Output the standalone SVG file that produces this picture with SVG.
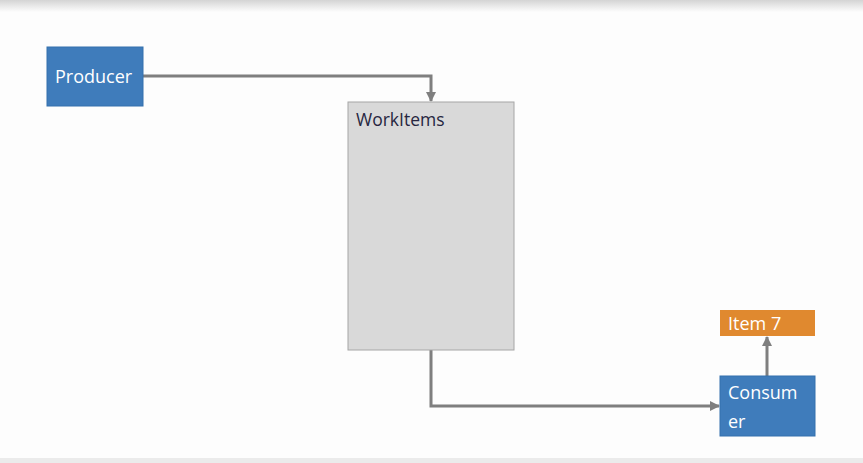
<svg xmlns="http://www.w3.org/2000/svg" width="863" height="463" viewBox="0 0 863 463">
<defs>
<linearGradient id="top" x1="0" y1="0" x2="0" y2="1">
<stop offset="0" stop-color="#d4d4d4"/>
<stop offset="1" stop-color="#fdfdfd"/>
</linearGradient>
<marker id="ah" viewBox="0 0 10 10" refX="9" refY="5" markerWidth="10" markerHeight="10" markerUnits="userSpaceOnUse" orient="auto">
<path d="M0,0 L10,5 L0,10 z" fill="#7f7f7f"/>
</marker>
<style>
.blue{fill:#3f7cbb;stroke:#3570ad;stroke-width:1}
.lbl{font-family:"Open Sans","Noto Sans",sans-serif;font-size:18px;fill:#ffffff}
.conn{fill:none;stroke:#7f7f7f;stroke-width:3;marker-end:url(#ah)}
</style>
</defs>
<rect x="0" y="0" width="863" height="463" fill="#fdfdfd"/>
<rect x="0" y="0" width="863" height="12" fill="url(#top)"/>
<rect x="0" y="458" width="863" height="5" fill="#ebebeb"/>
<g id="connectors">
<path class="conn" d="M143,76 H431 V101"/>
<path class="conn" d="M431,350 V406 H719"/>
<path class="conn" d="M767,376 V337"/>
</g>
<g id="producer">
<rect class="blue" x="47" y="47" width="96" height="59"/>
<text class="lbl" x="55" y="83">Producer</text>
</g>
<g id="workitems">
<rect x="348" y="102" width="166" height="248" fill="#d9d9d9" stroke="#a6a6a6" stroke-width="1"/>
<text x="356" y="126" font-family="Open Sans, Noto Sans, sans-serif" font-size="17.5" fill="#262640">WorkItems</text>
</g>
<g id="item7">
<rect x="720" y="310" width="95" height="26" fill="#e0892f"/>
<text class="lbl" x="728" y="330">Item 7</text>
</g>
<g id="consumer">
<rect class="blue" x="720" y="376" width="95" height="60"/>
<text class="lbl" x="728" y="399">Consum</text>
<text class="lbl" x="728" y="428">er</text>
</g>
</svg>
